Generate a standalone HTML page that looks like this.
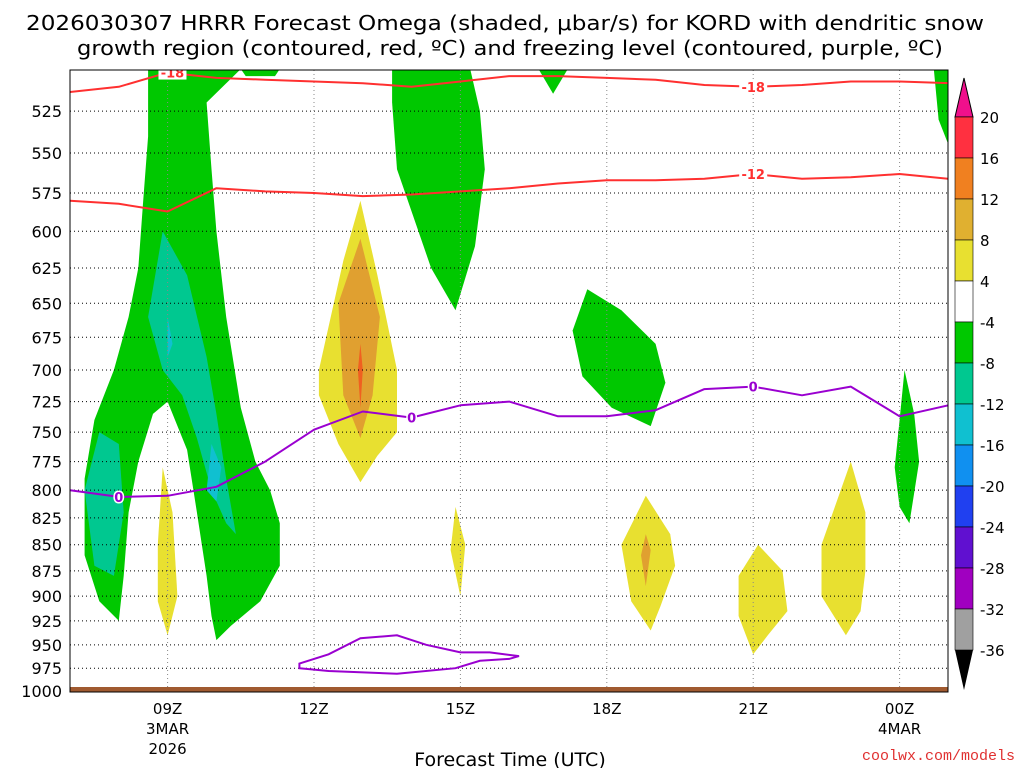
<!DOCTYPE html>
<html><head><meta charset="utf-8"><style>
body{margin:0;background:#fff;width:1024px;height:768px;overflow:hidden}
svg{display:block;font-family:"DejaVu Sans","Liberation Sans",sans-serif}
</style></head><body>
<svg id="chart" width="1024" height="768" xmlns="http://www.w3.org/2000/svg">
<text x="505" y="30" font-size="20" text-anchor="middle" textLength="958" lengthAdjust="spacingAndGlyphs">2026030307 HRRR Forecast Omega (shaded, μbar/s) for KORD with dendritic snow</text>
<text x="510" y="55" font-size="20" text-anchor="middle" textLength="866" lengthAdjust="spacingAndGlyphs">growth region (contoured, red, ºC) and freezing level (contoured, purple, ºC)</text>
<g id="fills"></g><g id="grid"></g><g id="lines"></g><g id="axes"></g><g id="cbar"></g>
<text x="510" y="766" font-size="19" text-anchor="middle">Forecast Time (UTC)</text>
<text x="1015" y="760" font-size="15" fill="#e03030" text-anchor="end" font-family="Liberation Mono,monospace">coolwx.com/models</text>
</svg>
<script>
const levels=[525,550,575,600,625,650,675,700,725,750,775,800,825,850,875,900,925,950,975,1000];
const xTicks=[9,12,15,18,21,24];
const xTickLabels=["09Z","12Z","15Z","18Z","21Z","00Z"];
const hours=[7,8,9,10,11,12,13,14,15,16,17,18,19,20,21,22,23,24,25];
const freezing=[800,806,805,797,775,748,733,738,728,725,737,737,732,715,713,720,713,737,728];
const minus12=[580,582,587,572,574,575,577,576,574,572,569,567,567,566,563,566,565,563,566];
const minus18=[514,511,503,506,507,508,509,511,508,505,505,506,507,510,511,510,508,508,509];
const cbLevels=[20,16,12,8,4,-4,-8,-12,-16,-20,-24,-28,-32,-36];
const cbColors=["#ff3040","#f08020","#e0b030","#e8e030","#ffffff","#00c800","#00c890","#10c0d0","#1090f0","#2040f0","#6010d0","#a000c0","#a0a0a0"];
const greenBlobs=[
[[8.6,501],[8.6,540],[8.5,580],[8.4,625],[8.2,660],[7.9,700],[7.5,740],[7.3,790],[7.3,860],[7.6,905],[8,925],[8.1,880],[8.2,820],[8.4,775],[8.7,735],[9,725],[9.4,765],[9.6,820],[9.8,880],[9.9,920],[10,945],[10.3,930],[10.9,905],[11.3,870],[11.3,830],[11.1,800],[10.8,775],[10.5,730],[10.2,660],[10,600],[9.9,560],[9.8,520],[10.5,501]],
[[11.3,501],[11.2,505],[10.6,505],[10.5,501]],
[[13.6,501],[13.6,520],[13.7,560],[14.4,625],[14.9,655],[15.3,610],[15.5,560],[15.4,525],[15.2,501]],
[[16.6,501],[16.9,515],[17.2,501]],
[[17.3,670],[17.6,640],[18.3,655],[19,680],[19.2,710],[18.9,745],[18.1,730],[17.5,705]],
[[24,740],[24.1,700],[24.3,735],[24.4,775],[24.2,830],[24.0,815],[23.9,780]],
[[25,501],[25,545],[24.8,530],[24.7,501]]];
const tealBlobs=[
[[8.9,600],[8.6,660],[8.9,700],[9.3,720],[9.6,755],[9.9,800],[10.2,830],[10.4,840],[10.2,790],[10,735],[9.8,690],[9.4,630]],
[[7.6,750],[7.3,800],[7.5,870],[7.9,880],[8.1,820],[8,760]]];
const cyanBlobs=[[[9.9,760],[9.8,800],[10,810],[10.1,780]],[[9,660],[9,690],[9.1,680]]];
const yellowBlobs=[
[[12.1,700],[12.6,620],[12.95,580],[13.3,630],[13.7,700],[13.7,750],[13.3,770],[12.95,793],[12.5,760],[12.1,720]],
[[8.8,850],[8.9,780],[9.1,820],[9.2,900],[9.0,940],[8.8,905]],
[[14.8,855],[14.9,815],[15.1,850],[15,900]],
[[18.3,850],[18.8,805],[19.3,840],[19.4,870],[19.1,910],[18.9,935],[18.5,905]],
[[20.7,880],[21.1,850],[21.6,875],[21.7,915],[21.3,940],[21,960],[20.7,920]],
[[22.4,850],[23,775],[23.3,820],[23.3,875],[23.2,915],[22.9,940],[22.4,900]]];
const orangeBlobs=[[[12.5,650],[12.95,605],[13.35,660],[13.2,720],[12.95,755],[12.6,720]],[[18.8,840],[18.9,855],[18.8,890],[18.7,860]]];
const redBlobs=[[[12.95,680],[13.0,700],[12.95,730],[12.9,700]]];
const loop=[[11.7,970],[12.3,960],[12.95,943],[13.7,940],[14.3,950],[15,958],[15.6,958],[16.2,962],[16,965],[15.4,967],[14.9,975],[13.7,981],[12.3,978],[11.7,975]];
const ns="http://www.w3.org/2000/svg";
const X=h=>70+(h-7)*48.8, Y=p=>691-900*Math.log(1000/p);
function mk(t,a,parent){const e=document.createElementNS(ns,t);for(const k in a)e.setAttribute(k,a[k]);document.getElementById(parent).appendChild(e);return e;}
function pts(arr){return arr.map(d=>X(d[0]).toFixed(1)+","+Y(d[1]).toFixed(1)).join(" ");}
const defs=document.createElementNS(ns,"defs");defs.innerHTML='<clipPath id="clip"><rect x="70" y="70" width="878" height="622"/></clipPath>';document.getElementById("chart").prepend(defs);
document.getElementById("fills").setAttribute("clip-path","url(#clip)");
document.getElementById("lines").setAttribute("clip-path","url(#clip)");
[[greenBlobs,"#00c800"],[tealBlobs,"#00c890"],[cyanBlobs,"#10c0d0"],[yellowBlobs,"#e8e030"],[orangeBlobs,"#e0a030"],[redBlobs,"#f06020"]].forEach(([set,c])=>set.forEach(b=>{
 const e=mk("polygon",{points:pts(b),fill:c},"fills");
 
 
}));
levels.forEach(p=>{const e=mk("line",{x1:70,x2:948,y1:Y(p),y2:Y(p),stroke:"#000","stroke-dasharray":"1,3","stroke-width":1},"grid");
 
 const t=mk("text",{x:62,y:Y(p)+6,"font-size":16,"text-anchor":"end"},"axes");t.textContent=p;
 });
xTicks.forEach((h,i)=>{const e=mk("line",{x1:X(h),x2:X(h),y1:70,y2:692,stroke:"#888","stroke-dasharray":"1,3"},"grid");
 
 const t=mk("text",{x:X(h),y:714,"font-size":15,"text-anchor":"middle"},"axes");t.textContent=xTickLabels[i];
 });
[["3MAR",9,734],["2026",9,754],["4MAR",24,734]].forEach(d=>{const t=mk("text",{x:X(d[1]),y:d[2],"font-size":15,"text-anchor":"middle"},"axes");t.textContent=d[0];
 });
const g=mk("rect",{x:70,y:687,width:878,height:7,fill:"#a05a30"},"lines");
function line(vals,c,name){const e=mk("polyline",{points:pts(hours.map((h,i)=>[h,vals[i]])),fill:"none",stroke:c,"stroke-width":2,"stroke-linejoin":"round"},"lines");
 }
line(minus18,"#ff3030","minus18-contour");line(minus12,"#ff3030","minus12-contour");line(freezing,"#9a00d0","freezing-level");
const lp=mk("polygon",{points:pts(loop),fill:"none",stroke:"#9a00d0","stroke-width":2},"lines");
function lab(txt,h,p,c){const r=mk("rect",{x:X(h)-14,y:Y(p)-7,width:28,height:14,fill:"#fff"},"lines");
 const t=mk("text",{x:X(h),y:Y(p)+5,"font-size":13,"font-weight":"bold",fill:c,"text-anchor":"middle"},"lines");t.textContent=txt;}
lab("-18",21,minus18[14],"#ff3030");lab("-12",21,minus12[14],"#ff3030");lab("-18",9.1,503,"#ff3030");
[[8,"0"],[14,"0"],[21,"0"]].forEach(d=>{const t=mk("text",{x:X(d[0]),y:Y(freezing[hours.indexOf(d[0])])+5,"font-size":13,"font-weight":"bold",fill:"#9a00d0","text-anchor":"middle",stroke:"#fff","stroke-width":3,"paint-order":"stroke"},"lines");t.textContent=d[1];});
const fr=mk("rect",{x:70,y:70,width:878,height:622,fill:"none",stroke:"#000","stroke-width":1},"axes");
const cbY=i=>117+i*41;
const tt=mk("polygon",{points:"955,117 973,117 964,78",fill:"#f0108c",stroke:"#000"},"cbar");
cbColors.forEach((c,i)=>{const r=mk("rect",{x:955,y:cbY(i),width:18,height:41,fill:c,stroke:"#000","stroke-width":0.6},"cbar");
 });
const bt=mk("polygon",{points:`955,${cbY(13)} 973,${cbY(13)} 964,${cbY(13)+40}`,fill:"#000"},"cbar");
cbLevels.forEach((v,i)=>{const t=mk("text",{x:980,y:cbY(i)+6,"font-size":15},"cbar");t.textContent=v;
 });
</script>
</body></html>
